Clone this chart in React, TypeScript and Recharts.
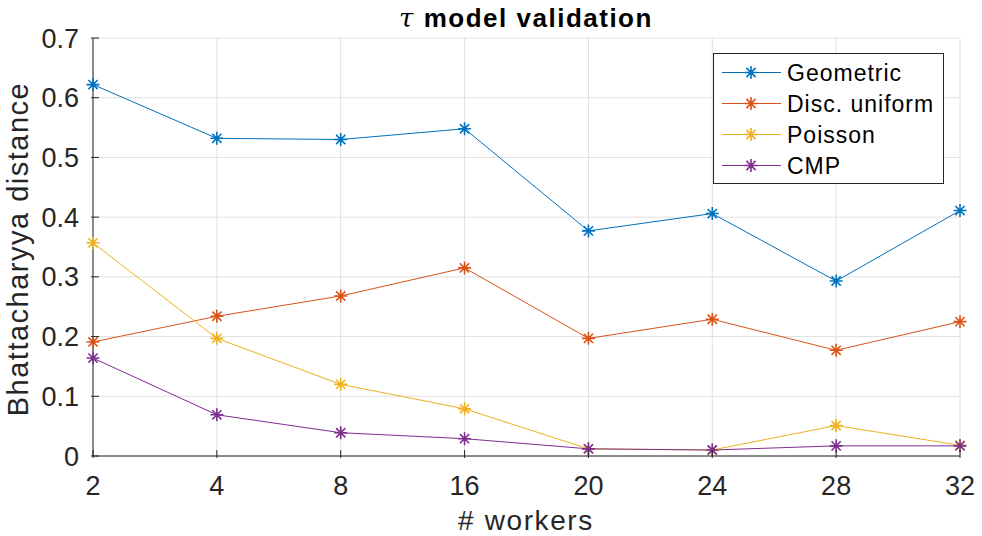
import React from 'react'
import { LineChart, Line, XAxis, YAxis, CartesianGrid } from 'recharts'

// ─── Data ───
const workers = ['2', '4', '8', '16', '20', '24', '28', '32']
const geometric = [0.622, 0.532, 0.530, 0.548, 0.377, 0.406, 0.293, 0.411]
const discUniform = [0.191, 0.234, 0.268, 0.315, 0.197, 0.229, 0.177, 0.225]
const poisson = [0.357, 0.197, 0.120, 0.079, 0.012, 0.010, 0.051, 0.018]
const cmp = [0.164, 0.069, 0.039, 0.029, 0.012, 0.010, 0.017, 0.017]
const yTicks = [0, 0.1, 0.2, 0.3, 0.4, 0.5, 0.6, 0.7]

const SERIES = [
  { key: 'geometric', name: 'Geometric', color: '#0072BD' },
  { key: 'discUniform', name: 'Disc. uniform', color: '#D95319' },
  { key: 'poisson', name: 'Poisson', color: '#EDB120' },
  { key: 'cmp', name: 'CMP', color: '#7E2F8E' },
]

const data = workers.map((w, i) => ({
  w,
  geometric: geometric[i],
  discUniform: discUniform[i],
  poisson: poisson[i],
  cmp: cmp[i],
}))

const FONT = 'Helvetica, Arial, "Liberation Sans", sans-serif'
const INK = '#262626'

function star(cx: number, cy: number, color: string, key?: any) {
  const r = 6.5
  const d = 4.6
  return (
    <path
      key={key}
      d={`M${cx - r},${cy}L${cx + r},${cy}M${cx},${cy - r}L${cx},${cy + r}M${cx - d},${cy - d}L${cx + d},${cy + d}M${cx - d},${cy + d}L${cx + d},${cy - d}`}
      stroke={color}
      strokeWidth={1.6}
      fill="none"
    />
  )
}

const makeDot = (color: string) => (props: any) => {
  const { cx, cy, index } = props
  if (cx == null || cy == null) return <g key={index} />
  return star(cx, cy, color, index)
}

const XTick = (props: any) => {
  const { x, y, payload } = props
  return (
    <g>
      <line x1={x} y1={y} x2={x} y2={y - 8} stroke={INK} strokeWidth={1} />
      <text x={x} y={y + 37} textAnchor="middle" fontSize={27} fill={INK} fontFamily={FONT}>
        {payload.value}
      </text>
    </g>
  )
}

const YTick = (props: any) => {
  const { x, y, payload } = props
  return (
    <g>
      <line x1={x} y1={y} x2={x + 8} y2={y} stroke={INK} strokeWidth={1} />
      <text x={x - 12} y={y + 9.5} textAnchor="end" fontSize={27} fill={INK} fontFamily={FONT}>
        {payload.value === 0 ? '0' : payload.value.toFixed(1)}
      </text>
    </g>
  )
}

const LegendBox = () => (
  <div
    style={{
      position: 'absolute',
      left: 713,
      top: 53,
      width: 231,
      height: 131,
      border: `1.3px solid ${INK}`,
      background: '#fff',
      boxSizing: 'border-box',
    }}
  >
    <svg width={229} height={129} style={{ display: 'block' }}>
      {SERIES.map((s, i) => {
        const y = 18.5 + i * 31
        return (
          <g key={s.key}>
            <line x1={8} y1={y} x2={67} y2={y} stroke={s.color} strokeWidth={1.2} />
            {star(37, y, s.color)}
            <text x={73} y={y + 8} fontSize={23} letterSpacing={1} fill="#000" fontFamily={FONT}>
              {s.name}
            </text>
          </g>
        )
      })}
    </svg>
  </div>
)

export default function App() {
  return (
    <div style={{ position: 'absolute', left: 0, top: 0, width: 982, height: 536, background: '#fff' }}>
      <LineChart width={982} height={536} data={data} margin={{ top: 38, right: 22, left: 0, bottom: 0 }}>
        <CartesianGrid stroke="#e0e0e0" strokeWidth={1} />
        <XAxis
          dataKey="w"
          scale="point"
          padding={{ left: 0, right: 0 }}
          height={80}
          stroke={INK}
          tickLine={false}
          tickSize={0}
          tick={<XTick />}
          interval={0}
        />
        <YAxis
          domain={[0, 0.7]}
          ticks={yTicks}
          width={93}
          stroke={INK}
          tickLine={false}
          tickSize={0}
          tick={<YTick />}
          interval={0}
        />
        {SERIES.map(s => (
          <Line
            key={s.key}
            dataKey={s.key}
            name={s.name}
            type="linear"
            stroke={s.color}
            strokeWidth={1}
            dot={makeDot(s.color)}
            activeDot={false}
            isAnimationActive={false}
          />
        ))}
        <text x={526} y={27} textAnchor="middle" fontSize={26} letterSpacing={1.5} fontWeight="bold" fill="#000" fontFamily={FONT}>
          <tspan fontStyle="italic" fontWeight="normal" fontFamily='"DejaVu Serif", serif'>τ</tspan>
          <tspan> model validation</tspan>
        </text>
        <text x={526} y={530} textAnchor="middle" fontSize={28} letterSpacing={1.6} fill={INK} fontFamily={FONT}>
          # workers
        </text>
        <text
          x={28}
          y={249}
          textAnchor="middle"
          fontSize={29}
          letterSpacing={1.5}
          fill={INK}
          fontFamily={FONT}
          transform="rotate(-90 28 249)"
        >
          Bhattacharyya distance
        </text>
      </LineChart>
      <LegendBox />
    </div>
  )
}
